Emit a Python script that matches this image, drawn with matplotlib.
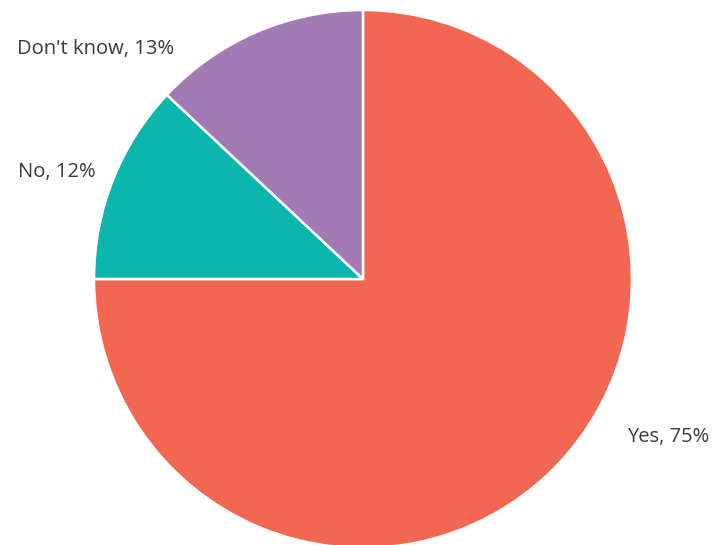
import matplotlib.pyplot as plt

labels = ["Yes", "No", "Don't know"]
shares = [75, 12, 13]
colors = ["#F26752", "#0DB6AD", "#A27BB5"]

# label anchor points (axes data units, pie radius = 1)
label_pos = [(1.134, -0.587), (-1.138, 0.398), (-0.996, 0.855)]

fig = plt.figure(figsize=(7.13, 5.45), dpi=100)
ax = fig.add_axes([94 / 713, -3 / 545, 538 / 713, 538 / 545])

wedges, _ = ax.pie(shares, colors=colors, startangle=90, counterclock=False,
                   radius=1, wedgeprops=dict(edgecolor="white", linewidth=1.8))
for w in wedges:
    w.set_clip_on(False)

for lab, val, (x, y) in zip(labels, shares, label_pos):
    ax.text(x, y, f"{lab}, {val}%", ha="center", va="center",
            fontsize=14.5, color="#3a3a3a", family="Open Sans", clip_on=False)

ax.set_xlim(-1, 1)
ax.set_ylim(-1, 1)
ax.set_aspect("equal")
ax.axis("off")

fig.savefig("out.png", dpi=100)
